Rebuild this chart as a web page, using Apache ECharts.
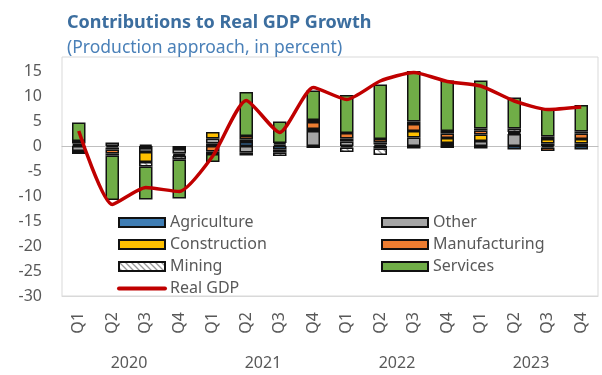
<!DOCTYPE html>
<html>
<head>
<meta charset="utf-8">
<script src="https://cdn.jsdelivr.net/npm/echarts@6/dist/echarts.min.js"></script>
<style>
  html, body { margin: 0; padding: 0; background: #fff; }
  #chart { width: 602px; height: 375px; }
</style>
</head>
<body>
<div id="chart"></div>
<script>
const quarters = ["Q1", "Q2", "Q3", "Q4", "Q1", "Q2", "Q3", "Q4", "Q1", "Q2", "Q3", "Q4", "Q1", "Q2", "Q3", "Q4"];
const years = ["2020", "2021", "2022", "2023"];

const agriculture = [0.2, -0.3, -0.4, -0.6, 0.5, 0.8, -0.7, -0.4, -0.3, -0.5, -0.5, -0.4, -0.5, -0.7, -0.3, -0.7];
const other = [-1.0, 0.7, -0.8, -0.9, 1.0, -1.3, 0.3, 3.0, 0.9, 0.3, 1.7, 0.6, 1.0, 2.4, 0.5, 0.5];
const construction = [0.3, -0.4, -2.0, -0.3, 1.3, 0.5, -0.6, 0.4, 0.6, 0.4, 1.3, 1.0, 1.3, 0.2, 0.9, 0.9];
const manufacturing = [0.5, -0.8, 0.3, -0.2, -1.1, 0.7, 0.3, 1.4, 1.1, 0.7, 1.4, 0.9, 0.8, 0.2, -0.7, 1.1];
const mining = [-0.6, -0.4, -0.9, -0.7, -0.5, -0.6, -0.7, 0.4, -0.9, -1.3, 0.5, 0.5, 0.4, 0.7, 0.5, 0.4];
const services = [3.7, -8.9, -6.6, -7.8, -1.6, 8.8, 4.3, 5.9, 7.6, 10.9, 10.1, 10.1, 9.6, 6.2, 5.6, 5.3];
const realGdp = [3.0, -11.7, -8.3, -9.1, -2.0, 9.1, 2.7, 11.7, 9.3, 13.0, 14.7, 12.9, 12.0, 9.0, 7.3, 7.8];

// hatch fill for mining
const hatch = document.createElement("canvas");
hatch.width = 6;
hatch.height = 6;
const ctx = hatch.getContext("2d");
ctx.fillStyle = "#fff";
ctx.fillRect(0, 0, 6, 6);
ctx.strokeStyle = "#9a9a9a";
ctx.lineWidth = 1.3;
ctx.beginPath();
ctx.moveTo(-1, -1); ctx.lineTo(7, 7);
ctx.moveTo(-1, 5); ctx.lineTo(1, 7);
ctx.moveTo(5, -1); ctx.lineTo(7, 1);
ctx.stroke();

const bar = (name, data, color) => ({
  name,
  type: "bar",
  stack: "total",
  data,
  barWidth: 13.5,
  xAxisIndex: 0,
  yAxisIndex: 0,
  itemStyle: { color, borderColor: "#111", borderWidth: 1.5 },
});

const textColor = "#595959";
const lightLine = "#D9D9D9";

const chart = echarts.init(document.getElementById("chart"));
const option = {
  animation: false,
  textStyle: { fontFamily: "Noto Sans" },
  title: [
    {
      text: "Contributions to Real GDP Growth",
      left: 62,
      top: 9,
      textStyle: { fontSize: 18, fontWeight: "bold", color: "#3C6E9F" },
    },
    {
      text: "(Production approach, in percent)",
      left: 62,
      top: 34,
      textStyle: { fontSize: 17.5, fontWeight: "normal", color: "#4A80B8" },
    },
  ],
  legend: [
    {
      left: 117,
      top: 214.5,
      padding: 0,
      orient: "vertical",
      itemWidth: 46,
      itemHeight: 9,
      itemGap: 6,
      data: [
        { name: "Agriculture", icon: "rect" },
        { name: "Construction", icon: "rect" },
        { name: "Mining", icon: "rect" },
        { name: "Real GDP", itemStyle: { opacity: 0 } },
      ],
      lineStyle: { width: 4, cap: "round" },
      textStyle: { fontSize: 16, color: textColor },
    },
    {
      left: 381,
      top: 214.5,
      padding: 0,
      orient: "vertical",
      itemWidth: 46,
      itemHeight: 9,
      itemGap: 6,
      data: [
        { name: "Other", icon: "rect" },
        { name: "Manufacturing", icon: "rect" },
        { name: "Services", icon: "rect" },
      ],
      textStyle: { fontSize: 16, color: textColor },
    },
  ],
  grid: [
    { left: 62, right: 4, top: 57, bottom: 79, show: true, borderColor: lightLine, borderWidth: 1 },
    { left: 62, right: 4, top: 295, height: 1 },
  ],
  xAxis: [
    {
      type: "category",
      gridIndex: 0,
      data: quarters,
      position: "bottom",
      axisLine: { onZero: false, lineStyle: { color: lightLine } },
      axisTick: { length: 41, lineStyle: { color: lightLine } },
      axisLabel: { rotate: 90, margin: 16, fontSize: 16, color: textColor, interval: 0 },
    },
    {
      type: "category",
      gridIndex: 0,
      data: quarters,
      position: "top",
      axisLine: { onZero: true, lineStyle: { color: "#BFBFBF" } },
      axisTick: { length: 5, lineStyle: { color: "#BFBFBF" } },
      axisLabel: { show: false },
    },
    {
      type: "category",
      gridIndex: 1,
      data: years,
      position: "bottom",
      axisLine: { show: false },
      axisTick: { length: 79, lineStyle: { color: lightLine } },
      axisLabel: { margin: 59, fontSize: 16, color: textColor },
    },
  ],
  yAxis: [
    {
      type: "value",
      gridIndex: 0,
      min: -30,
      max: 17.8,
      interval: 5,
      splitLine: { show: false },
      axisLine: { show: false },
      axisTick: { show: false },
      axisLabel: {
        fontSize: 16,
        color: textColor,
        margin: 20,
        formatter: (v) => (v % 5 === 0 ? String(v) : ""),
      },
    },
    { type: "value", gridIndex: 1, show: false },
  ],
  series: [
    bar("Agriculture", agriculture, "#3F7DB4"),
    bar("Other", other, "#A5A5A5"),
    bar("Construction", construction, "#FFC000"),
    bar("Manufacturing", manufacturing, "#ED7D31"),
    bar("Mining", mining, { image: hatch, repeat: "repeat" }),
    bar("Services", services, "#70AD47"),
    {
      name: "Real GDP",
      type: "line",
      data: realGdp,
      xAxisIndex: 0,
      yAxisIndex: 0,
      smooth: 0.2,
      symbol: "none",
      z: 5,
      itemStyle: { color: "#C00000" },
      lineStyle: { color: "#C00000", width: 3.5 },
    },
  ],
};
chart.setOption(option);
</script>
</body>
</html>
